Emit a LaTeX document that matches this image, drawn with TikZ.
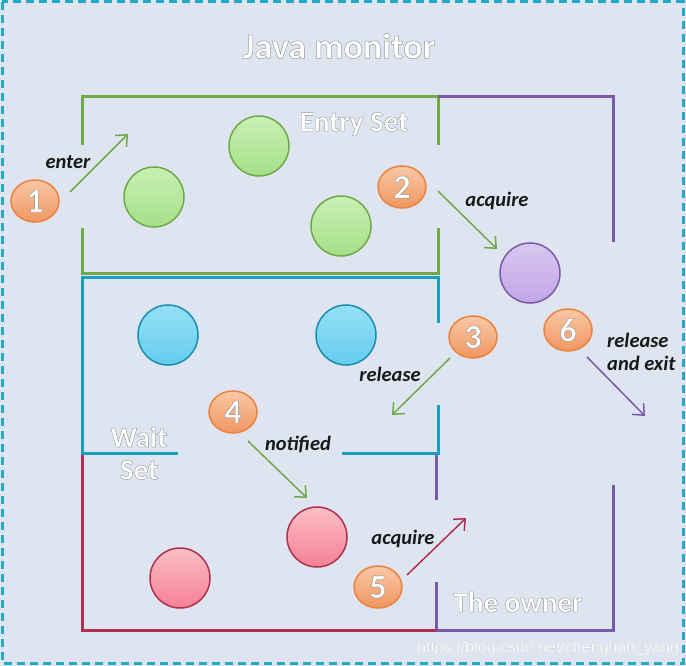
\documentclass[tikz,border=0pt]{standalone}
\usepackage{fontspec}
\setmainfont{Carlito}
\newfontfamily\wmfont{Liberation Sans}
\usetikzlibrary{shapes.geometric,arrows.meta}
\definecolor{bgc}{RGB}{223,229,240}
\definecolor{frame}{RGB}{37,170,196}
\definecolor{gln}{RGB}{112,170,72}
\definecolor{cln}{RGB}{26,158,194}
\definecolor{pln}{RGB}{122,90,166}
\definecolor{rln}{RGB}{176,48,80}
\definecolor{orng}{RGB}{236,130,64}
\definecolor{gtop}{RGB}{200,240,180}
\definecolor{gbot}{RGB}{164,224,136}
\definecolor{ctop}{RGB}{150,224,246}
\definecolor{cbot}{RGB}{100,204,238}
\definecolor{ptop}{RGB}{216,198,240}
\definecolor{pbot}{RGB}{194,166,232}
\definecolor{rtop}{RGB}{250,190,198}
\definecolor{rbot}{RGB}{246,128,148}
\definecolor{otop}{RGB}{250,200,166}
\definecolor{obot}{RGB}{240,150,96}
\newcommand\wtext[3][0.4]{\textcolor{white}{\special{pdf:literal direct 2 Tr #1 w #2 G}#3\special{pdf:literal direct 0 Tr}}}
\tikzset{
  boxline/.style={line width=3pt},
  gline/.style={boxline, draw=gln},
  cline/.style={boxline, draw=cln},
  pline/.style={boxline, draw=pln},
  rline/.style={boxline, draw=rln},
  ball/.style={circle, minimum size=60pt, inner sep=0pt, line width=1.5pt},
  gball/.style={ball, draw=gln, top color=gtop, bottom color=gbot},
  cball/.style={ball, draw=cln!90!black, top color=ctop, bottom color=cbot},
  pball/.style={ball, draw=pln, top color=ptop, bottom color=pbot},
  rball/.style={ball, draw=rln, top color=rtop, bottom color=rbot},
  badge/.style={ellipse, minimum width=48pt, minimum height=42pt, inner sep=0pt, draw=orng, line width=1.5pt,
     top color=otop, bottom color=obot, font=\fontsize{34}{34}\selectfont\bfseries},
  lbl/.style={font=\fontsize{20.5}{23}\selectfont\bfseries\itshape, text=black!90, inner sep=0pt, align=left},
  setlbl/.style={font=\fontsize{29}{30}\selectfont\bfseries, inner sep=0pt},
  arr/.style={line width=1.5pt, -{Straight Barb[length=9pt,width=16pt,line width=1.5pt]}},
}
\begin{document}
\begin{tikzpicture}[x=1pt,y=-1pt]
\useasboundingbox (0,0) rectangle (686,666);
\fill[bgc] (0,0) rectangle (686,666);
\draw[frame, line width=3pt, dash pattern=on 8pt off 5pt] (2,2) rectangle (683,663);

% title
\node[font=\fontsize{36}{37}\selectfont\bfseries, inner sep=0pt] (title) at (339,46) {\wtext[0.5]{0.6}{Java monitor}};

% boxes
\draw[gline] (82,145) -- (82,97) -- (438,97) -- (438,145);
\draw[gline] (82,228) -- (82,273) -- (438,273) -- (438,228);
\draw[pline] (438,97) -- (613,97) -- (613,242);
\draw[pline] (613,485) -- (613,630) -- (436,630) -- (436,582);
\draw[pline] (436,453) -- (436,500);
\draw[cline] (438,323) -- (438,277) -- (82,277) -- (82,453) -- (178,453);
\draw[cline] (342,453) -- (438,453) -- (438,405);
\draw[rline] (82,455) -- (82,630) -- (436,630);

% set labels
\node[setlbl] (entry) at (354,124) {\wtext{0.58}{Entry Set}};
\node[setlbl] (wait) at (139,437) {\wtext{0.58}{Wait}};
\node[setlbl] (set) at (139,470) {\wtext{0.58}{Set}};
\node[setlbl] (owner) at (518,602) {\wtext{0.58}{The owner}};

% balls
\node[gball] (g1) at (154,197) {};
\node[gball] (g2) at (259,146) {};
\node[gball] (g3) at (341,226) {};
\node[pball] (p1) at (530,273) {};
\node[cball] (c1) at (168,335) {};
\node[cball] (c2) at (346,335) {};
\node[rball] (r1) at (317,537) {};
\node[rball] (r2) at (180,578) {};

% badges
\node[badge] (b1) at (35,201) {\wtext{0.55}{1}};
\node[badge] (b2) at (402,187) {\wtext{0.55}{2}};
\node[badge] (b3) at (473,337) {\wtext{0.55}{3}};
\node[badge] (b6) at (568,330) {\wtext{0.55}{6}};
\node[badge] (b4) at (233,412) {\wtext{0.55}{4}};
\node[badge] (b5) at (378,587) {\wtext{0.55}{5}};

% arrow end points
\coordinate (e1s) at (70,192);  \coordinate (e1e) at (128,134);
\coordinate (a2s) at (438,191); \coordinate (a2e) at (497,249);
\coordinate (r3s) at (450,358); \coordinate (r3e) at (392,415);
\coordinate (x6s) at (587,357); \coordinate (x6e) at (645,416);
\coordinate (n4s) at (248,441); \coordinate (n4e) at (307,498);
\coordinate (a5s) at (407,575); \coordinate (a5e) at (466,518);

\draw[arr, gln] (e1s) -- (e1e);
\draw[arr, gln] (a2s) -- (a2e);
\draw[arr, gln] (r3s) -- (r3e);
\draw[arr, pln] (x6s) -- (x6e);
\draw[arr, gln] (n4s) -- (n4e);
\draw[arr, rln] (a5s) -- (a5e);

% arrow labels
\node[lbl] (l1) at (68,162) {enter};
\node[lbl] (l2) at (497,201) {acquire};
\node[lbl] (l3) at (390,374) {release};
\node[lbl, anchor=west] (l6) at (607,352) {release\\and exit};
\node[lbl] (l4) at (298,444) {notified};
\node[lbl] (l5) at (403,539) {acquire};

% watermark
\node[font=\wmfont\fontsize{16}{16}\selectfont, inner sep=0pt] (wm) at (548,648) {\wtext[0.1]{0.78}{https://blog.csdn.net/chenghan\_yang}};
\end{tikzpicture}
\end{document}
